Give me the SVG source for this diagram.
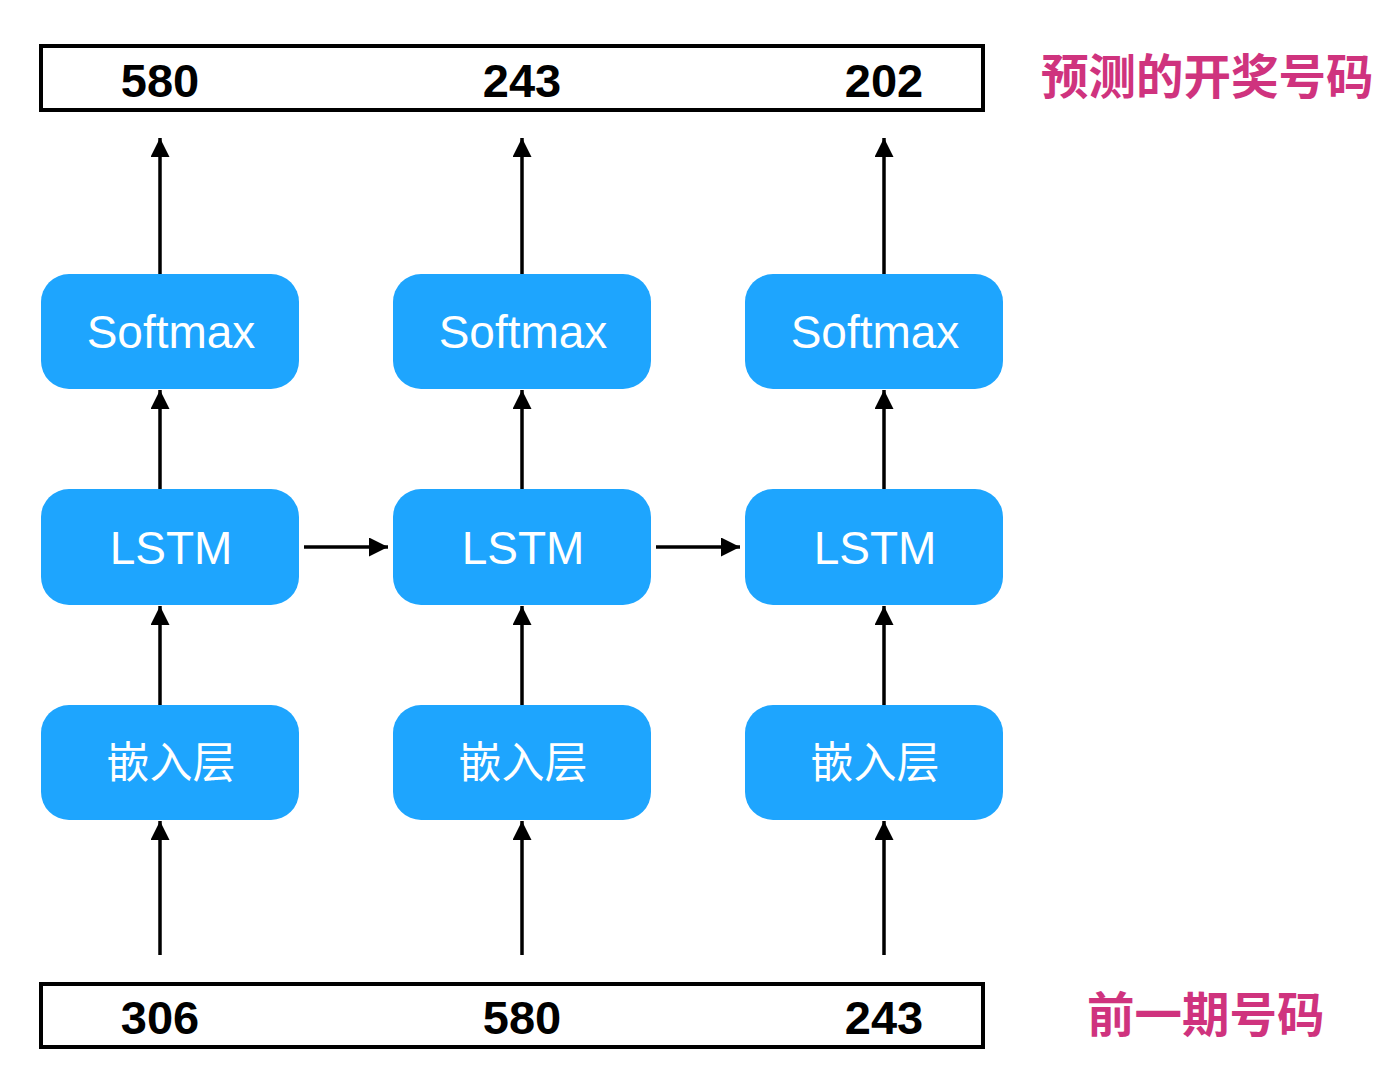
<svg xmlns="http://www.w3.org/2000/svg" width="1400" height="1092" viewBox="0 0 1400 1092">
<style>
.box{fill:#1EA5FE}
.lbl{fill:#fff;font-family:"Liberation Sans","Noto Sans CJK SC",sans-serif;font-size:46px;text-anchor:middle}
.cjk{font-family:"Noto Sans CJK SC",sans-serif;font-size:43px}
.num{fill:#000;font-family:"Liberation Sans",sans-serif;font-weight:bold;font-size:47px;text-anchor:middle}
.frame{fill:#fff;stroke:#000;stroke-width:4}
.pink{fill:#CF337E;font-family:"Noto Sans CJK SC",sans-serif;font-weight:bold;font-size:47.5px}
.conn line{stroke:#000;stroke-width:3.5;marker-end:url(#ah)}
</style>
<defs>
<marker id="ah" markerUnits="userSpaceOnUse" markerWidth="20" markerHeight="20" refX="19" refY="9.5" orient="auto">
<path d="M0,0 L19,9.5 L0,19 z" fill="#000"/>
</marker>
</defs>
<rect width="1400" height="1092" fill="#fff"/>
<g id="output">
<rect class="frame" x="41" y="46" width="942" height="64"/>
<text class="num" x="160" y="97">580</text>
<text class="num" x="522" y="97">243</text>
<text class="num" x="884" y="97">202</text>
</g>
<g id="output-label"><text class="pink" x="1041" y="94">预测的开奖号码</text></g>
<g id="input">
<rect class="frame" x="41" y="984" width="942" height="63"/>
<text class="num" x="160" y="1034">306</text>
<text class="num" x="522" y="1034">580</text>
<text class="num" x="884" y="1034">243</text>
</g>
<g id="input-label"><text class="pink" x="1087" y="1032">前一期号码</text></g>
<g id="softmax1"><rect class="box" x="41" y="274" width="258" height="115" rx="28"/><text class="lbl" x="171" y="348">Softmax</text></g>
<g id="softmax2"><rect class="box" x="393" y="274" width="258" height="115" rx="28"/><text class="lbl" x="523" y="348">Softmax</text></g>
<g id="softmax3"><rect class="box" x="745" y="274" width="258" height="115" rx="28"/><text class="lbl" x="875" y="348">Softmax</text></g>
<g id="lstm1"><rect class="box" x="41" y="489" width="258" height="116" rx="28"/><text class="lbl" x="171" y="564">LSTM</text></g>
<g id="lstm2"><rect class="box" x="393" y="489" width="258" height="116" rx="28"/><text class="lbl" x="523" y="564">LSTM</text></g>
<g id="lstm3"><rect class="box" x="745" y="489" width="258" height="116" rx="28"/><text class="lbl" x="875" y="564">LSTM</text></g>
<g id="embed1"><rect class="box" x="41" y="705" width="258" height="115" rx="28"/><text class="lbl cjk" x="171" y="778">嵌入层</text></g>
<g id="embed2"><rect class="box" x="393" y="705" width="258" height="115" rx="28"/><text class="lbl cjk" x="523" y="778">嵌入层</text></g>
<g id="embed3"><rect class="box" x="745" y="705" width="258" height="115" rx="28"/><text class="lbl cjk" x="875" y="778">嵌入层</text></g>
<g id="connectors" class="conn">
<line x1="160" y1="955" x2="160" y2="821"/>
<line x1="522" y1="955" x2="522" y2="821"/>
<line x1="884" y1="955" x2="884" y2="821"/>
<line x1="160" y1="705" x2="160" y2="606"/>
<line x1="522" y1="705" x2="522" y2="606"/>
<line x1="884" y1="705" x2="884" y2="606"/>
<line x1="160" y1="489" x2="160" y2="390"/>
<line x1="522" y1="489" x2="522" y2="390"/>
<line x1="884" y1="489" x2="884" y2="390"/>
<line x1="160" y1="274" x2="160" y2="138"/>
<line x1="522" y1="274" x2="522" y2="138"/>
<line x1="884" y1="274" x2="884" y2="138"/>
<line x1="304" y1="547" x2="388" y2="547"/>
<line x1="656" y1="547" x2="740" y2="547"/>
</g>
</svg>
